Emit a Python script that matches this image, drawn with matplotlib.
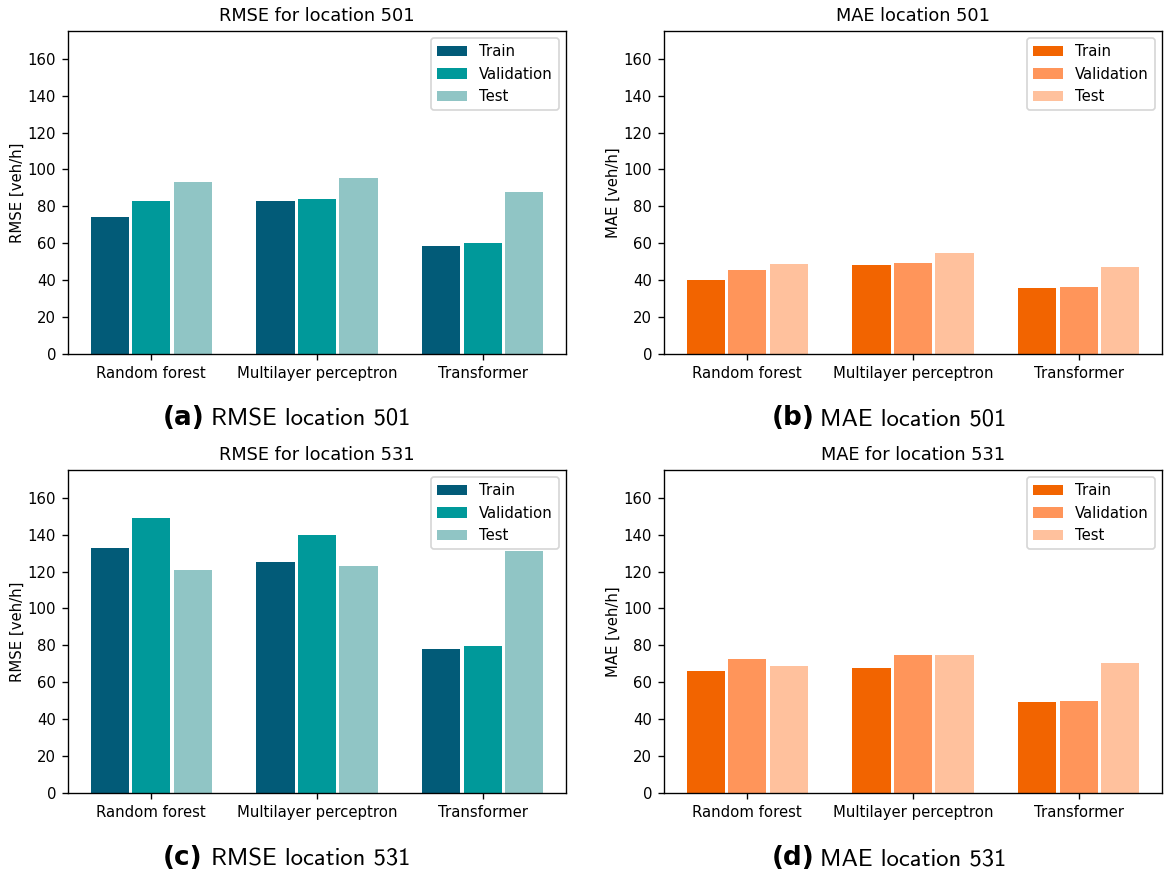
import numpy as np
import matplotlib
matplotlib.use("Agg")
import matplotlib.pyplot as plt

models = ["Random forest", "Multilayer perceptron", "Transformer"]
splits = ["Train", "Validation", "Test"]

# values (rows: train, validation, test)
rmse_501 = [[74.3, 83.0, 58.6], [83.0, 84.1, 60.2], [93.3, 95.5, 87.9]]
mae_501 = [[40.1, 48.3, 35.8], [45.6, 49.4, 36.3], [48.8, 54.8, 47.2]]
rmse_531 = [[132.9, 125.3, 78.1], [149.2, 139.9, 79.7], [120.9, 123.1, 131.3]]
mae_531 = [[66.0, 67.6, 49.5], [72.6, 74.7, 50.1], [68.8, 74.7, 70.4]]

blues = ["#025b78", "#00999a", "#90c5c5"]
oranges = ["#f26400", "#ff955a", "#ffc19d"]

panels = [
    (rmse_501, blues, "RMSE for location 501", "RMSE [veh/h]", "(a)", "RMSE location 501"),
    (mae_501, oranges, "MAE location 501", "MAE [veh/h]", "(b)", "MAE location 501"),
    (rmse_531, blues, "RMSE for location 531", "RMSE [veh/h]", "(c)", "RMSE location 531"),
    (mae_531, oranges, "MAE for location 531", "MAE [veh/h]", "(d)", "MAE location 531"),
]

plt.rcParams["font.size"] = 8.75

W, H = 1164, 873
fig = plt.figure(figsize=(W / 122, H / 122), dpi=122)

# axes boxes in pixels: left, top, right, bottom
boxes = [(68, 31, 566, 354), (664, 31, 1162, 354), (68, 470, 566, 793), (664, 470, 1162, 793)]
cap_pos = [(163, 425), (772, 425), (163, 865), (772, 865)]

x = np.arange(len(models))
width = 0.23
for (vals, cols, title, ylab, tag, cap), (l, t, r, b), (cx, cy) in zip(panels, boxes, cap_pos):
    ax = fig.add_axes([l / W, 1 - b / H, (r - l) / W, (b - t) / H])
    for i, s in enumerate(splits):
        ax.bar(x + (i - 1) * 0.25, vals[i], width, color=cols[i], label=s)
    ax.set_xticks(x)
    ax.set_xticklabels(models)
    ax.set_ylim(0, 175)
    ax.set_yticks(range(0, 161, 20))
    ax.set_title(title)
    ax.set_ylabel(ylab, labelpad=1.5)
    ax.legend(loc="upper right")

    fig.text(cx / W, 1 - cy / H, tag, fontsize=15.5, fontweight="bold",
             family="DejaVu Sans", ha="left", va="baseline")
    fig.text(cx / W, 1 - cy / H, cap, fontsize=14.5, family="cmss10", ha="left", va="baseline",
             transform=matplotlib.transforms.offset_copy(fig.transFigure, fig=fig, x=48, y=0, units="dots"))

fig.savefig("out.png", dpi=122)
